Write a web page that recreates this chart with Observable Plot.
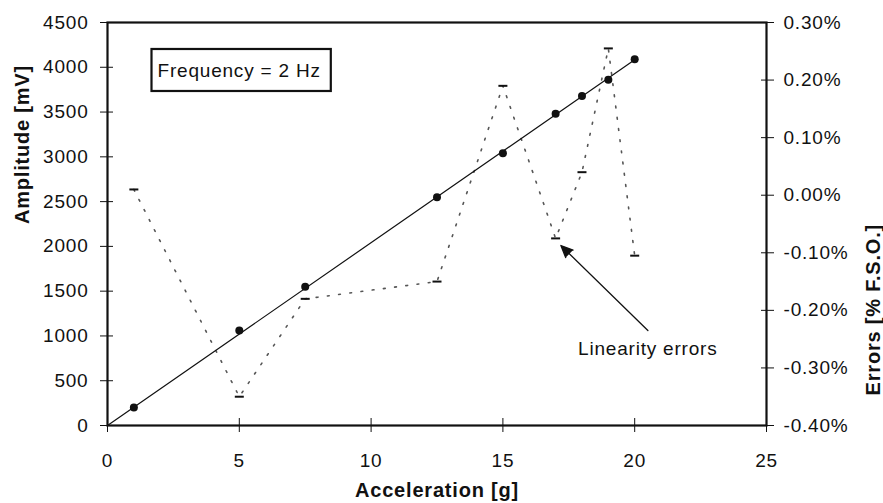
<!DOCTYPE html>
<html><head><meta charset="utf-8">
<script src="https://cdn.jsdelivr.net/npm/d3@7"></script>
<script src="https://cdn.jsdelivr.net/npm/@observablehq/plot@0.6"></script>
<style>body{margin:0;background:#fff}</style>
</head><body><div id="chart"></div>
<script>
// ---- data ----
const acceleration = [1, 5, 7.5, 12.5, 15, 17, 18, 19, 20];          // g
const amplitude    = [200, 1060, 1550, 2550, 3040, 3480, 3680, 3860, 4090]; // mV
const errors       = [0.01, -0.35, -0.18, -0.15, 0.19, -0.075, 0.04, 0.255, -0.105]; // % F.S.O.
const xTicks   = [0, 5, 10, 15, 20, 25];
const ampTicks = [0, 500, 1000, 1500, 2000, 2500, 3000, 3500, 4000, 4500];
const errTicks = [-0.4, -0.3, -0.2, -0.1, 0, 0.1, 0.2, 0.3];
const xDomain   = [0, 25];
const ampDomain = [0, 4500];
const errDomain = [-0.4, 0.3];
const xLabel = "Acceleration [g]";
const ampLabel = "Amplitude [mV]";
const errLabel = "Errors [% F.S.O.]";
const boxLabel = "Frequency = 2 Hz";
const noteLabel = "Linearity errors";
const noteAt = [17.85, 850];
const arrowFrom = [20.5, 1060];
const arrowTo = [17.2, 2010];

// ---- derived ----
const toAmp = e => ampDomain[0] + (e - errDomain[0]) / (errDomain[1] - errDomain[0]) * (ampDomain[1] - ampDomain[0]);
const fromAmp = v => errDomain[0] + (v - ampDomain[0]) / (ampDomain[1] - ampDomain[0]) * (errDomain[1] - errDomain[0]);
const pts = acceleration.map((x, i) => ({x, amp: amplitude[i], err: errors[i]}));
const slope = d3.sum(pts, d => d.x * d.amp) / d3.sum(pts, d => d.x * d.x);
const fit = [0, d3.max(acceleration)].map(x => ({x, y: slope * x}));
const dash = {draw(ctx) { ctx.moveTo(-4.5, 0); ctx.lineTo(4.5, 0); }};
const fmtErr = v => { let e = Math.round(fromAmp(v) * 100) / 100; if (Math.abs(e) < 1e-9) e = 0; return e.toFixed(2) + "%"; };

const font = "'Liberation Sans', Arial, Helvetica, sans-serif";

const chart = Plot.plot({
  width: 883, height: 503,
  marginLeft: 107, marginRight: 117, marginTop: 22, marginBottom: 78,
  style: {fontFamily: font, fontSize: "19px", color: "#111", background: "#fff", letterSpacing: "0.8px"},
  x: {domain: xDomain},
  y: {domain: ampDomain},
  marks: [
    Plot.line(pts, {x: "x", y: d => toAmp(d.err), stroke: "#555", strokeWidth: 1.6, strokeDasharray: "1.8,9.5"}),
    Plot.dot(pts, {x: "x", y: d => toAmp(d.err), symbol: dash, stroke: "#111", strokeWidth: 2, fill: "none"}),
    Plot.line(fit, {x: "x", y: "y", stroke: "#111", strokeWidth: 1.2}),
    Plot.dot(pts, {x: "x", y: "amp", r: 4, fill: "#111"}),
    Plot.arrow([{x1: arrowFrom[0], y1: arrowFrom[1], x2: arrowTo[0], y2: arrowTo[1]}],
      {x1: "x1", y1: "y1", x2: "x2", y2: "y2", stroke: "#111", fill: "#111", strokeWidth: 1.3, headLength: 15, headAngle: 48}),
    Plot.text([{x: noteAt[0], y: noteAt[1], t: noteLabel}], {x: "x", y: "y", text: "t", textAnchor: "start", fontSize: 19, fill: "#111"}),
    Plot.text([boxLabel], {text: d => d, frameAnchor: "top-left", dx: 50, dy: 41, textAnchor: "start", lineAnchor: "top", fontSize: 19, fill: "#111"}),
    Plot.axisX({anchor: "bottom", ticks: xTicks, tickSize: 14, dy: -7, tickPadding: 20.5, label: null, fontSize: 19}),
    Plot.axisY({anchor: "left", ticks: ampTicks, tickFormat: d => String(d), tickSize: 13, dx: 6, tickPadding: 12, label: null, fontSize: 19}),
    Plot.axisY({anchor: "right", ticks: errTicks.map(toAmp), tickFormat: fmtErr, tickSize: 13, dx: -6, tickPadding: 10, label: null, fontSize: 19}),
    Plot.text([ampLabel], {text: d => d, frameAnchor: "left", dx: -85, rotate: -90, fontSize: 20, fontWeight: "bold", fill: "#111"}),
    Plot.text([errLabel], {text: d => d, frameAnchor: "right", dx: 107, rotate: -90, fontSize: 20, fontWeight: "bold", fill: "#111"}),
    Plot.text([xLabel], {text: d => d, frameAnchor: "bottom", dy: 71, fontSize: 20, fontWeight: "bold", fill: "#111"}),
    Plot.frame({stroke: "#111", strokeWidth: 2.2})
  ]
});
document.getElementById("chart").append(chart);

// box around the frequency note, sized from the rendered text
const t = Array.from(chart.querySelectorAll("text")).find(el => el.textContent === boxLabel);
if (t) {
  const b = t.getBBox();
  const ns = "http://www.w3.org/2000/svg";
  const r = document.createElementNS(ns, "rect");
  r.setAttribute("x", b.x - 6);
  r.setAttribute("y", b.y - 11);
  r.setAttribute("width", b.width + 16);
  r.setAttribute("height", b.height + 21);
  r.setAttribute("fill", "#fff");
  r.setAttribute("stroke", "#111");
  r.setAttribute("stroke-width", 2.2);
  const tr = t.getAttribute("transform");
  if (tr) r.setAttribute("transform", tr);
  t.parentNode.insertBefore(r, t);
}
</script>
</body></html>
